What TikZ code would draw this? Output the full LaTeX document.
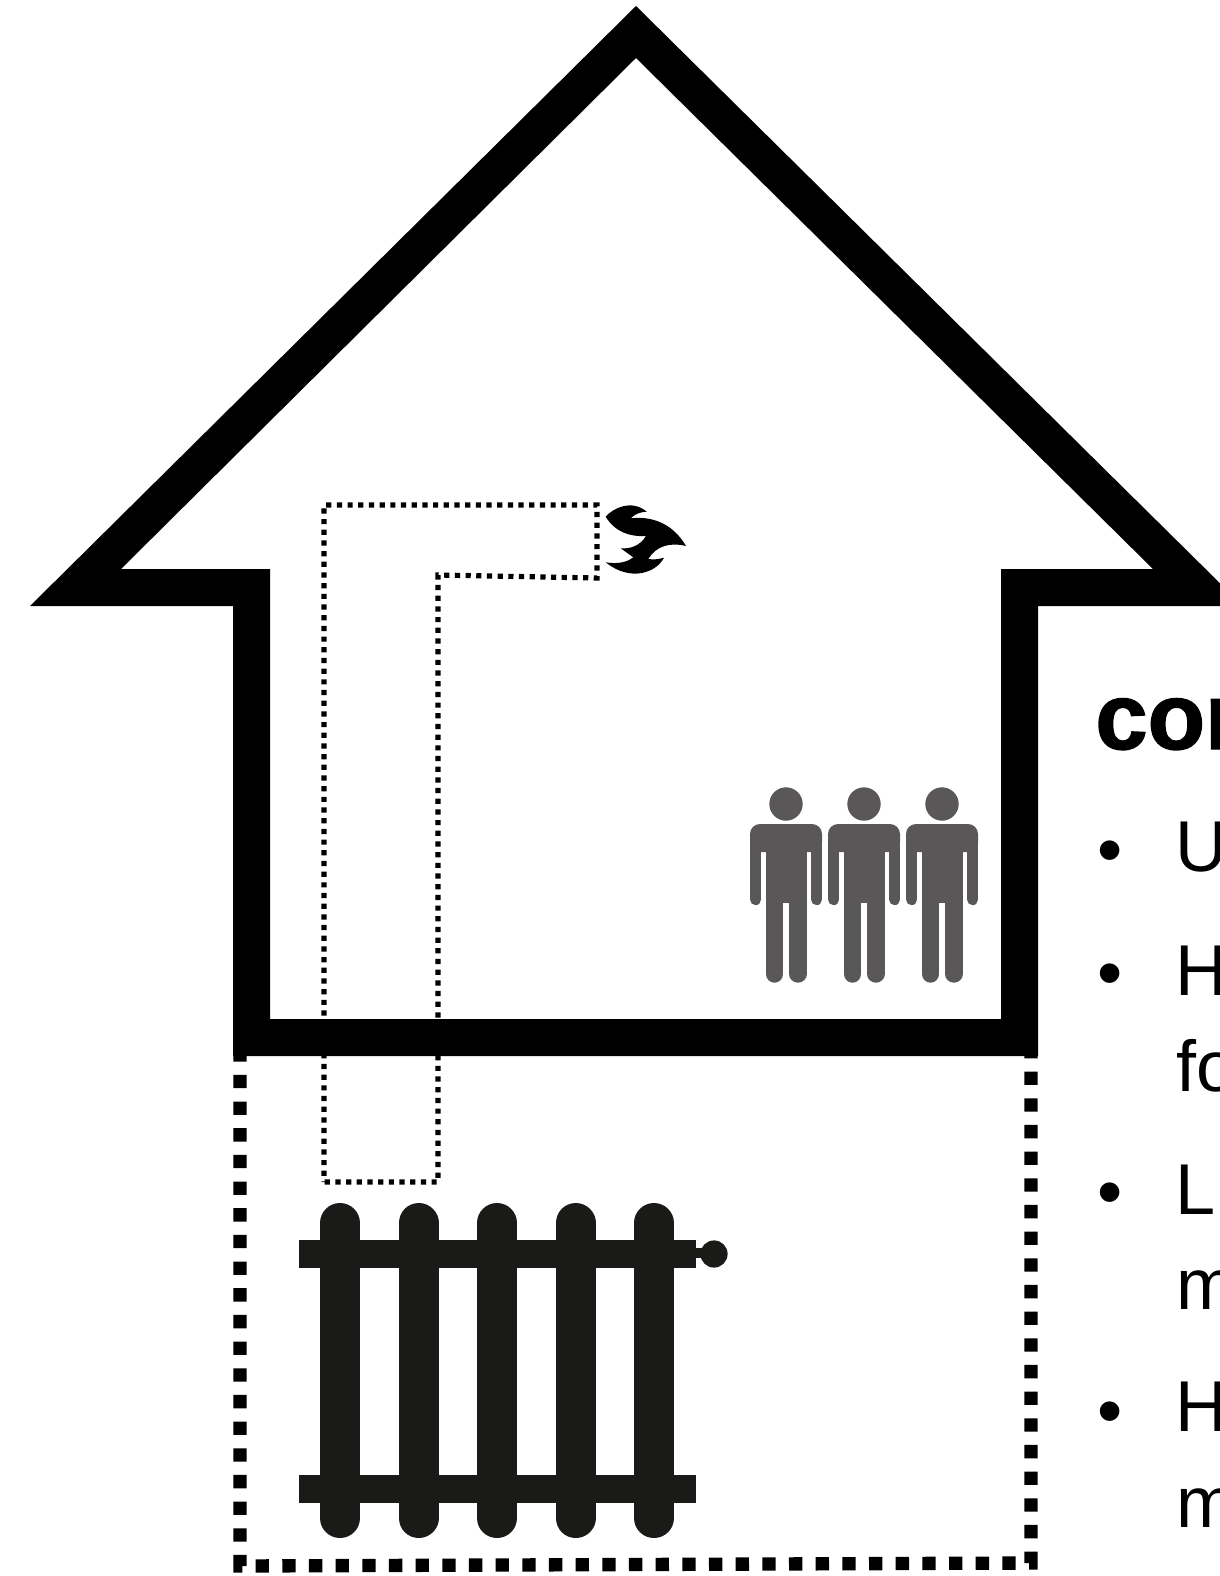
\documentclass[tikz,border=0pt]{standalone}
\usepackage{fontspec}
\setmainfont{Liberation Sans}
\newfontfamily\headfont[BoldFeatures={FakeBold=1.5}]{Liberation Sans}
\definecolor{radiatorcol}{HTML}{1A1A18}
\definecolor{personcol}{HTML}{595757}
\tikzset{
  heading/.style={anchor=base west, inner sep=0pt, font=\headfont\bfseries\fontsize{47}{47}\selectfont},
  listtext/.style={anchor=base west, inner sep=0pt, font=\fontsize{36}{36}\selectfont},
  flue/.style={line width=2.6pt, dash pattern=on 2.6pt off 2.742pt, dash phase=2.3pt},
  boiler/.style={line width=6.67pt, dash pattern=on 6.67pt off 6.665pt, dash phase=3.9pt},
  rib/.style={radiatorcol, line width=20pt, line cap=round},
  limb/.style={personcol, line cap=round}
}
\begin{document}
\begin{tikzpicture}[x=0.5pt, y=-0.5pt]
  \useasboundingbox (0,0) rectangle (1220,1576);
  \draw[boiler] (240,1056) -- (240,1566) -- (1031,1563) -- (1031,1056);
  \draw[flue] (324,1182) -- (324,505) -- (597,505) -- (597,578) -- (438,575) -- (438,1182) -- cycle;
  \fill[even odd rule] (30,606) -- (636,6) -- (1243,606) -- (1038,606) -- (1038,1056) -- (233,1056) -- (233,606) -- cycle
    (121,569) -- (636,58) -- (1153,569) -- (1001,569) -- (1001,1019) -- (270,1019) -- (270,569) -- cycle;
  \fill (605.7,516.7) .. controls (613,508) and (632,499) .. (646.7,511.7)
    .. controls (640,512) and (635,514) .. (630.7,518.3)
    .. controls (650,516) and (672,522) .. (686,546)
    .. controls (670,542) and (656,546) .. (648.3,559)
    .. controls (654,560) and (659,559) .. (664,557.7)
    .. controls (656,573) and (630,582) .. (605.7,562.3)
    .. controls (616,564) and (626,563) .. (633.3,557.3)
    -- (620.7,548.3)
    .. controls (630,549) and (640,546) .. (646,536)
    .. controls (630,537) and (615,532) .. (605.7,516.7) -- cycle;
  \foreach \dx in {786,864,942} {
    \begin{scope}[shift={(\dx,0)}]
      \fill[personcol] (0,804) circle (8.35pt);
      \fill[personcol, rounded corners=5pt] (-36,852) -- (-36,824) -- (36,824) -- (36,852) -- cycle;
      \fill[personcol] (-20,835) rectangle (20.5,903);
      \draw[limb, line width=5.65pt] (-30.3,840) -- (-30.3,899.5);
      \draw[limb, line width=5.65pt] (30.6,840) -- (30.6,899.5);
      \draw[limb, line width=8.7pt] (-11.4,895) -- (-11.4,974);
      \draw[limb, line width=8.7pt] (11.8,895) -- (11.8,974);
    \end{scope}
  }
  \foreach \rx in {340,418.5,497,575.5,654} {
    \draw[rib] (\rx,1223) -- (\rx,1518);
  }
  \fill[radiatorcol] (298.7,1240) rectangle (695.5,1268);
  \fill[radiatorcol] (298.7,1475) rectangle (695.5,1503);
  \fill[radiatorcol] (695,1248) rectangle (705,1258);
  \fill[radiatorcol] (714,1254) circle (6.8pt);
  \node[heading] (title) at (1095,749) {cor};
  \node[listtext] (bulleta) at (1097.5,874) {•};
  \node[listtext] (itema) at (1175,871) {U};
  \node[listtext] (bulletb) at (1097.5,997) {•};
  \node[listtext] (itemb) at (1175,995) {H};
  \node[listtext] (itembb) at (1176,1091) {fo};
  \node[listtext] (bulletc) at (1097.5,1216) {•};
  \node[listtext] (itemc) at (1175,1214) {L};
  \node[listtext] (itemcc) at (1176,1309) {m};
  \node[listtext] (bulletd) at (1097.5,1435) {•};
  \node[listtext] (itemd) at (1175,1431) {H};
  \node[listtext] (itemdd) at (1176,1527) {m};
\end{tikzpicture}
\end{document}
